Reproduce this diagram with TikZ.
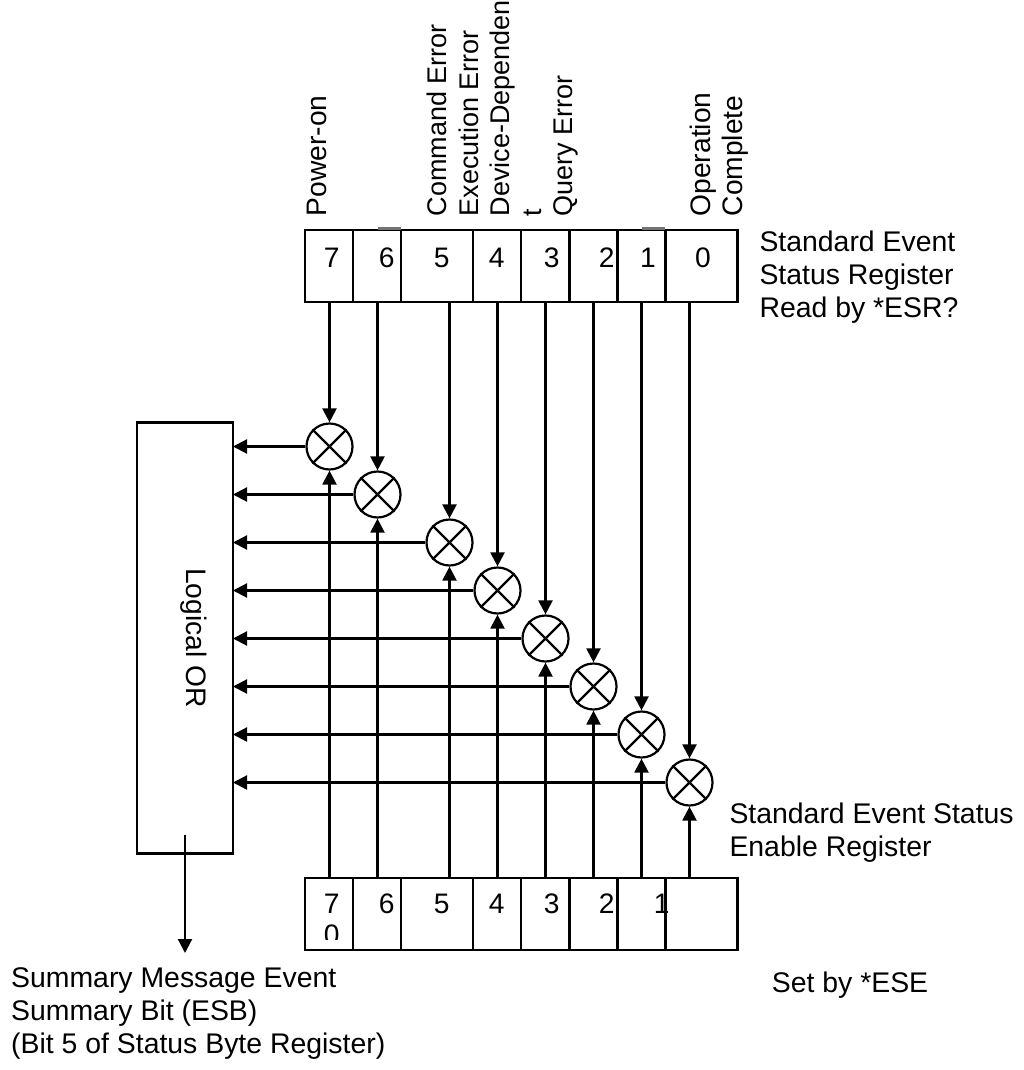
\documentclass[tikz,border=0pt]{standalone}
\usepackage{fontspec}
\setmainfont{Liberation Sans}
\usetikzlibrary{arrows.meta}
\tikzset{
  ese font/.style={font=\fontsize{28.2}{31.5}\selectfont},
  ese vfont/.style={font=\fontsize{27}{31.5}\selectfont},
  ese hfont/.style={font=\fontsize{28.4}{33}\selectfont},
  ese line/.style={line width=2.2pt},
  ese cell/.style={draw,line width=2.2pt,inner sep=0pt,outer sep=0pt,
    minimum height=72pt,anchor=north west},
  ese mult/.style={circle,draw,line width=2.2pt,minimum size=46pt,inner sep=0pt},
  ese wire/.style={line width=2.2pt,-{Triangle[length=14pt,width=14pt]}},
  ese text/.style={inner sep=0pt,align=left}
}
\newcommand{\esemultat}[2]{%
  \node[ese mult] (#1) at (#2) {};
  \draw[ese line] (#1.45)--(#1.225) (#1.135)--(#1.-45);%
}

\begin{document}
\begin{tikzpicture}[x=1pt,y=-1pt]
  \useasboundingbox (0,0) rectangle (1023,1070);

  % status register (top) and enable register (bottom)
  \foreach \b/\l/\r/\d in {7/305/353/331.7,6/353/401/386.7,5/401/473/441.7,
      4/473/521/496.7,3/521/569.5/551.7,2/569.5/617.5/606.7,1/617.5/665.5/648,
      0/665.5/737.5/703}{
    \node[ese cell,minimum width={\r-\l}] (t\b) at (\l,230) {};
    \node[ese font,anchor=base,inner sep=0pt] (td\b) at (\d,267) {\b};
    \node[ese cell,minimum width={\r-\l}] (b\b) at (\l,878) {};
  }
  \foreach \b/\d in {7/331.7,6/386.7,5/441.7,4/496.7,3/551.7,2/606.7,1/661.7}
    \node[ese font,anchor=base,inner sep=0pt] (bd\b) at (\d,913) {\b};
  \begin{scope}
    \clip (305,878) rectangle (353,939);
    \node[ese font,anchor=base,inner sep=0pt] (bdz) at (331.7,944.5) {0};
  \end{scope}
  \draw[ese line,black!55] (378,228.5) -- (401,228.5) (642,228.5) -- (664.5,228.5);

  % logical OR
  \node[ese cell,minimum width=96,minimum height=431] (orbox) at (137,422.5) {};
  \node[ese font,rotate=-90,inner sep=0pt] (orlbl) at ([xshift=8.5pt]orbox.center)
    {Logical OR};
  \coordinate (esb) at (185,953);
  \draw[ese wire] ([yshift=19pt]orbox.south) -- (esb);

  % enable gates
  \foreach \b/\x [count=\i from 0] in {7/329.5,6/377.5,5/449.5,4/497.5,
      3/545.5,2/593.5,1/641.5,0/689.5}{
    \esemultat{m\b}{\x,{446.5+48*\i}}
    \draw[ese wire] (m\b |- t\b.south) -- (m\b.north);
    \draw[ese wire] (m\b |- b\b.north) -- (m\b.south);
    \draw[ese wire] (m\b.west) -- (m\b -| orbox.east);
  }

  % bit names
  \node[ese font,ese text,rotate=90,anchor=north west] (lpow) at (306.7,216.5)
    {Power-on};
  \node[ese vfont,ese text,rotate=90,anchor=north west] (lerr) at (427,216.5)
    {Command Error\\Execution Error\\Device-Dependen\\t\\Query Error};
  \node[ese font,ese text,rotate=90,anchor=north west] (lop) at (690,216.5)
    {Operation\\Complete};

  % register names
  \node[ese hfont,ese text,anchor=north west] (lesr) at (759.3,231)
    {Standard Event\\Status Register\\Read by *ESR?};
  \node[ese hfont,ese text,anchor=north west] (lese) at (729.3,802.6)
    {Standard Event Status\\Enable Register};
  \node[ese hfont,ese text,anchor=base west] (lset) at (771.7,992.7) {Set by *ESE};
  \node[ese hfont,ese text,anchor=north west] (lesb) at (11,967.3)
    {Summary Message Event\\Summary Bit (ESB)\\(Bit 5 of Status Byte Register)};
\end{tikzpicture}
\end{document}
